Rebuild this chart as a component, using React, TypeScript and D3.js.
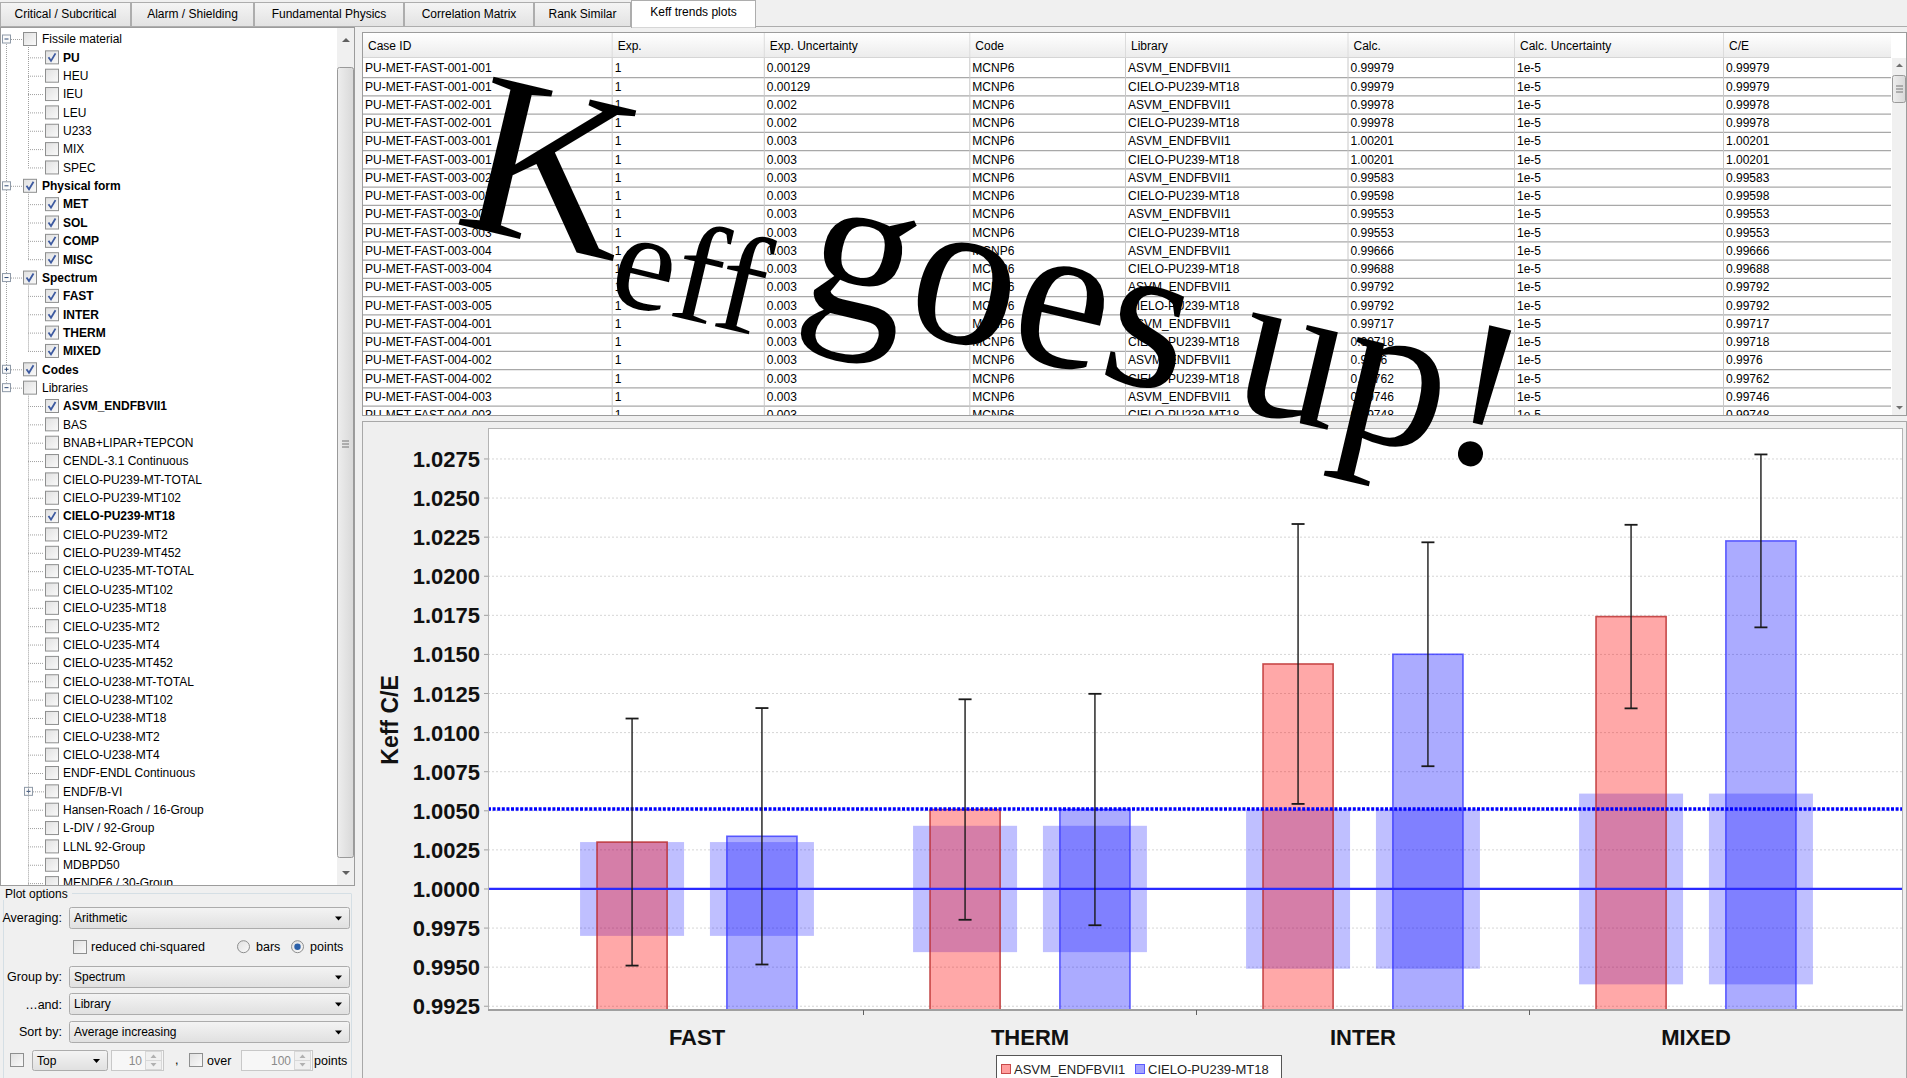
import React from "react";
import * as d3 from "d3";

// ---------- chart data ----------
const categories = ["FAST", "THERM", "INTER", "MIXED"];
const seriesNames = ["ASVM_ENDFBVII1", "CIELO-PU239-MT18"];
const asvmMean = [1.0030, 1.00508, 1.01439, 1.01742];
const asvmErr = [0.0079, 0.00705, 0.00895, 0.00587];
const cieloMean = [1.00337, 1.00508, 1.01501, 1.02226];
const cieloErr = [0.0082, 0.0074, 0.00716, 0.00553];
const expUncertainty = [0.0030, 0.00404, 0.0051, 0.0061];
const referenceLevel = 1.0;
const averageLevel = 1.00512;
const yTicks = [0.9925, 0.995, 0.9975, 1.0, 1.0025, 1.005, 1.0075, 1.01, 1.0125, 1.015, 1.0175, 1.02, 1.0225, 1.025, 1.0275];

// ---------- table data ----------
const tableHeaders = ["Case ID", "Exp.", "Exp. Uncertainty", "Code", "Library", "Calc.", "Calc. Uncertainty", "C/E"];
const caseIds = [
  "PU-MET-FAST-001-001", "PU-MET-FAST-001-001", "PU-MET-FAST-002-001", "PU-MET-FAST-002-001",
  "PU-MET-FAST-003-001", "PU-MET-FAST-003-001", "PU-MET-FAST-003-002", "PU-MET-FAST-003-002",
  "PU-MET-FAST-003-003", "PU-MET-FAST-003-003", "PU-MET-FAST-003-004", "PU-MET-FAST-003-004",
  "PU-MET-FAST-003-005", "PU-MET-FAST-003-005", "PU-MET-FAST-004-001", "PU-MET-FAST-004-001",
  "PU-MET-FAST-004-002", "PU-MET-FAST-004-002", "PU-MET-FAST-004-003", "PU-MET-FAST-004-003",
];
const expUncCol = ["0.00129", "0.00129", "0.002", "0.002", "0.003", "0.003", "0.003", "0.003", "0.003", "0.003",
  "0.003", "0.003", "0.003", "0.003", "0.003", "0.003", "0.003", "0.003", "0.003", "0.003"];
const calcCol = ["0.99979", "0.99979", "0.99978", "0.99978", "1.00201", "1.00201", "0.99583", "0.99598", "0.99553", "0.99553",
  "0.99666", "0.99688", "0.99792", "0.99792", "0.99717", "0.99718", "0.9976", "0.99762", "0.99746", "0.99748"];

// ---------- UI data ----------
const tabLabels = ["Critical / Subcritical", "Alarm / Shielding", "Fundamental Physics", "Correlation Matrix", "Rank Similar", "Keff trends plots"];
const tabEdges = [0, 131, 254, 404, 534, 631, 756];
// label, level, checked, expander
const treeRows: [string, number, boolean, string][] = [
  ["Fissile material", 1, false, "-"], ["PU", 2, true, ""], ["HEU", 2, false, ""], ["IEU", 2, false, ""],
  ["LEU", 2, false, ""], ["U233", 2, false, ""], ["MIX", 2, false, ""], ["SPEC", 2, false, ""],
  ["Physical form", 1, true, "-"], ["MET", 2, true, ""], ["SOL", 2, true, ""], ["COMP", 2, true, ""], ["MISC", 2, true, ""],
  ["Spectrum", 1, true, "-"], ["FAST", 2, true, ""], ["INTER", 2, true, ""], ["THERM", 2, true, ""], ["MIXED", 2, true, ""],
  ["Codes", 1, true, "+"], ["Libraries", 1, false, "-"],
  ["ASVM_ENDFBVII1", 2, true, ""], ["BAS", 2, false, ""], ["BNAB+LIPAR+TEPCON", 2, false, ""], ["CENDL-3.1 Continuous", 2, false, ""],
  ["CIELO-PU239-MT-TOTAL", 2, false, ""], ["CIELO-PU239-MT102", 2, false, ""], ["CIELO-PU239-MT18", 2, true, ""],
  ["CIELO-PU239-MT2", 2, false, ""], ["CIELO-PU239-MT452", 2, false, ""], ["CIELO-U235-MT-TOTAL", 2, false, ""],
  ["CIELO-U235-MT102", 2, false, ""], ["CIELO-U235-MT18", 2, false, ""], ["CIELO-U235-MT2", 2, false, ""],
  ["CIELO-U235-MT4", 2, false, ""], ["CIELO-U235-MT452", 2, false, ""], ["CIELO-U238-MT-TOTAL", 2, false, ""],
  ["CIELO-U238-MT102", 2, false, ""], ["CIELO-U238-MT18", 2, false, ""], ["CIELO-U238-MT2", 2, false, ""],
  ["CIELO-U238-MT4", 2, false, ""], ["ENDF-ENDL Continuous", 2, false, ""], ["ENDF/B-VI", 2, false, "+"],
  ["Hansen-Roach / 16-Group", 2, false, ""], ["L-DIV / 92-Group", 2, false, ""], ["LLNL 92-Group", 2, false, ""],
  ["MDBPD50", 2, false, ""], ["MENDF6 / 30-Group", 2, false, ""],
];

const UI = "'Liberation Sans', Arial, sans-serif";
const SERIF = "'Liberation Serif', 'Times New Roman', serif";

function CheckBox({ x, y, checked, size = 13 }: { x: number; y: number; checked: boolean; size?: number }) {
  return (
    <g>
      <rect x={x + 0.5} y={y + 0.5} width={size} height={size} fill="url(#cbGrad)" stroke="#8e8f8f" />
      {checked && (
        <path d={`M${x + 3.5} ${y + 7} L${x + 6} ${y + 10.5} L${x + 10.5} ${y + 3}`} fill="none" stroke="#3d5aa0" strokeWidth={1.8} />
      )}
    </g>
  );
}

function Combo({ x, y, w, h, label }: { x: number; y: number; w: number; h: number; label: string }) {
  return (
    <g>
      <rect x={x + 0.5} y={y + 0.5} width={w} height={h} rx={2} fill="url(#comboGrad)" stroke="#acacac" />
      <text x={x + 5} y={y + h / 2 + 4.5} fontSize={12} fontFamily={UI} fill="#000">{label}</text>
      <path d={`M${x + w - 14} ${y + h / 2 - 1} l7 0 l-3.5 4 z`} fill="#000" />
    </g>
  );
}

function Spinner({ x, y, w, h, value }: { x: number; y: number; w: number; h: number; value: string }) {
  return (
    <g>
      <rect x={x + 0.5} y={y + 0.5} width={w} height={h} fill="#f7f7f7" stroke="#c8c8c8" />
      <text x={x + w - 21} y={y + h / 2 + 4.5} fontSize={12} fontFamily={UI} fill="#8a8a8a" textAnchor="end">{value}</text>
      <rect x={x + w - 17.5} y={y + 1.5} width={16} height={h / 2 - 1} fill="#f0f0f0" stroke="#d8d8d8" />
      <rect x={x + w - 17.5} y={y + h / 2 + 0.5} width={16} height={h / 2 - 1} fill="#f0f0f0" stroke="#d8d8d8" />
      <path d={`M${x + w - 12.5} ${y + h / 2 - 2} l3 -3.5 l3 3.5 z`} fill="#b0b0b0" />
      <path d={`M${x + w - 12.5} ${y + h / 2 + 3} l3 3.5 l3 -3.5 z`} fill="#b0b0b0" />
    </g>
  );
}

export default function App() {
  // ----- chart geometry -----
  const plotL = 488, plotR = 1903, plotT = 428, plotB = 1010;
  const y = d3.scaleLinear().domain([0.99226, 1.02948]).range([plotB, plotT]);
  const x = d3.scaleBand<string>().domain(categories).range([530.5, 1862.5]);
  const xs = d3.scaleBand<string>().domain(seriesNames).range([-100, 100]).paddingInner(0.46);
  const series = [
    { name: seriesNames[0], mean: asvmMean, err: asvmErr, fill: "rgba(255,0,0,0.34)", stroke: "rgba(185,40,40,0.8)", lfill: "rgba(255,0,0,0.38)" },
    { name: seriesNames[1], mean: cieloMean, err: cieloErr, fill: "rgba(0,0,255,0.33)", stroke: "rgba(50,50,255,0.75)", lfill: "rgba(0,0,255,0.36)" },
  ];
  const boxW = 104;

  const treeRowH = 18.35;
  const treeY0 = 39;
  const tableRowH = 18.25;
  const tableRowY0 = 68;
  const colX = [362, 611.7, 763.8, 969.3, 1125, 1347.5, 1514, 1723, 1891];

  const libIndex = treeRows.findIndex((r) => r[0] === "Libraries");

  return (
    <svg width={1907} height={1078} style={{ position: "absolute", left: 0, top: 0, display: "block" }} xmlns="http://www.w3.org/2000/svg">
      <defs>
        <linearGradient id="tabGrad" x1="0" y1="0" x2="0" y2="1">
          <stop offset="0" stopColor="#f5f5f5" />
          <stop offset="1" stopColor="#e2e2e2" />
        </linearGradient>
        <linearGradient id="comboGrad" x1="0" y1="0" x2="0" y2="1">
          <stop offset="0" stopColor="#f4f4f4" />
          <stop offset="1" stopColor="#e0e0e0" />
        </linearGradient>
        <linearGradient id="cbGrad" x1="0" y1="0" x2="1" y2="1">
          <stop offset="0" stopColor="#e0e0e0" />
          <stop offset="1" stopColor="#fafafa" />
        </linearGradient>
        <linearGradient id="hdrGrad" x1="0" y1="0" x2="0" y2="1">
          <stop offset="0" stopColor="#ffffff" />
          <stop offset="1" stopColor="#ececec" />
        </linearGradient>
        <linearGradient id="thumbGrad" x1="0" y1="0" x2="1" y2="0">
          <stop offset="0" stopColor="#eeeeee" />
          <stop offset="1" stopColor="#d8d8d8" />
        </linearGradient>
        <clipPath id="treeClip"><rect x={1} y={28} width={335} height={857} /></clipPath>
        <clipPath id="tableClip"><rect x={363} y={58} width={1528} height={357} /></clipPath>
      </defs>

      {/* window background */}
      <rect x={0} y={0} width={1907} height={1078} fill="#f0f0f0" />

      {/* ---------- tabs ---------- */}
      <line x1={0} y1={26.5} x2={1907} y2={26.5} stroke="#adadad" />
      {tabLabels.map((t, i) => {
        const sel = i === tabLabels.length - 1;
        const x0 = tabEdges[i], x1 = tabEdges[i + 1];
        return (
          <g key={t}>
            <rect x={x0 + 0.5} y={sel ? 0.5 : 2.5} width={x1 - x0 - 1} height={sel ? 27 : 24} fill={sel ? "#ffffff" : "url(#tabGrad)"} stroke="#adadad" />
            {sel && <line x1={x0 + 1} y1={26.5} x2={x1 - 1} y2={26.5} stroke="#ffffff" strokeWidth={2} />}
            <text x={(x0 + x1) / 2} y={sel ? 16 : 18} fontSize={12} fontFamily={UI} textAnchor="middle" fill="#000">{t}</text>
          </g>
        );
      })}

      {/* ---------- tree panel ---------- */}
      <rect x={0.5} y={27.5} width={354} height={858} fill="#ffffff" stroke="#9c9c9c" />
      <g clipPath="url(#treeClip)">
        <line x1={6.5} y1={treeY0 + 5} x2={6.5} y2={treeY0 + libIndex * treeRowH - 5} stroke="#a0a0a0" strokeDasharray="1,1" />
        {treeRows.map((r, i) => {
          const [label, level, checked, exp] = r;
          const cy = treeY0 + i * treeRowH;
          const bold = checked;
          if (level === 1) {
            return (
              <g key={i}>
                <line x1={11} y1={cy + 0.5} x2={22} y2={cy + 0.5} stroke="#a0a0a0" strokeDasharray="1,1" />
                <rect x={2.5} y={cy - 4} width={8} height={8} fill="#fbfbfb" stroke="#8f9aa8" />
                <line x1={4.5} y1={cy} x2={8.5} y2={cy} stroke="#2f4a76" />
                {exp === "+" && <line x1={6.5} y1={cy - 2} x2={6.5} y2={cy + 2} stroke="#2f4a76" />}
                <CheckBox x={23} y={cy - 7} checked={checked} />
                <text x={42} y={cy + 4.3} fontSize={12} fontWeight={bold ? "bold" : "normal"} fontFamily={UI} fill="#000">{label}</text>
              </g>
            );
          }
          return (
            <g key={i}>
              <line x1={exp ? 33 : 28} y1={cy + 0.5} x2={44} y2={cy + 0.5} stroke="#a0a0a0" strokeDasharray="1,1" />
              {exp === "+" && (
                <g>
                  <rect x={24.5} y={cy - 4} width={8} height={8} fill="#fbfbfb" stroke="#8f9aa8" />
                  <line x1={26.5} y1={cy} x2={30.5} y2={cy} stroke="#2f4a76" />
                  <line x1={28.5} y1={cy - 2} x2={28.5} y2={cy + 2} stroke="#2f4a76" />
                </g>
              )}
              <CheckBox x={45} y={cy - 7} checked={checked} />
              <text x={63} y={cy + 4.3} fontSize={12} fontWeight={bold ? "bold" : "normal"} fontFamily={UI} fill="#000">{label}</text>
            </g>
          );
        })}
        {[[0, 7], [8, 12], [13, 17], [19, 46]].map(([p, last], k) => (
          <line key={k} x1={28.5} y1={treeY0 + p * treeRowH + 8} x2={28.5} y2={k === 3 ? 890 : treeY0 + last * treeRowH} stroke="#a0a0a0" strokeDasharray="1,1" />
        ))}
      </g>
      {/* tree scrollbar */}
      <rect x={337} y={28} width={17} height={857} fill="#f0f0f0" />
      <path d="M342 42 l4 -4 l4 4 z" fill="#606060" />
      <rect x={337.5} y={67.5} width={16} height={790} rx={2} fill="url(#thumbGrad)" stroke="#9a9a9a" />
      <line x1={342} y1={441} x2={349} y2={441} stroke="#777" />
      <line x1={342} y1={444} x2={349} y2={444} stroke="#777" />
      <line x1={342} y1={447} x2={349} y2={447} stroke="#777" />
      <path d="M342 871 l4 4 l4 -4 z" fill="#606060" />

      {/* ---------- plot options ---------- */}
      <line x1={72} y1={893.5} x2={351} y2={893.5} stroke="#d5dfe5" />
      <line x1={3.5} y1={900} x2={3.5} y2={1078} stroke="#d5dfe5" />
      <line x1={351.5} y1={893.5} x2={351.5} y2={1078} stroke="#d5dfe5" />
      <text x={5} y={898} fontSize={12} fontFamily={UI} fill="#000">Plot options</text>

      <text x={62} y={922} fontSize={12.5} fontFamily={UI} textAnchor="end" fill="#000">Averaging:</text>
      <Combo x={69} y={907} w={280} h={21} label="Arithmetic" />
      <CheckBox x={73} y={940} checked={false} />
      <text x={91} y={951} fontSize={12.5} fontFamily={UI} fill="#000">reduced chi-squared</text>
      <circle cx={243.5} cy={946.7} r={6} fill="url(#cbGrad)" stroke="#8e8f8f" />
      <text x={256} y={951} fontSize={12.5} fontFamily={UI} fill="#000">bars</text>
      <circle cx={297.5} cy={946.7} r={6} fill="url(#cbGrad)" stroke="#8e8f8f" />
      <circle cx={297.5} cy={946.7} r={3.2} fill="#2a5fa8" />
      <text x={310} y={951} fontSize={12.5} fontFamily={UI} fill="#000">points</text>

      <text x={62} y={981} fontSize={12.5} fontFamily={UI} textAnchor="end" fill="#000">Group by:</text>
      <Combo x={69} y={966} w={280} h={21} label="Spectrum" />
      <text x={62} y={1008.5} fontSize={12.5} fontFamily={UI} textAnchor="end" fill="#000">…and:</text>
      <Combo x={69} y={993} w={280} h={21} label="Library" />
      <text x={62} y={1036} fontSize={12.5} fontFamily={UI} textAnchor="end" fill="#000">Sort by:</text>
      <Combo x={69} y={1021} w={280} h={21} label="Average increasing" />

      <CheckBox x={10} y={1053} checked={false} />
      <Combo x={32} y={1050} w={75} h={20} label="Top" />
      <Spinner x={111} y={1050} w={52} h={20} value="10" />
      <text x={175} y={1064} fontSize={12.5} fontFamily={UI} fill="#000">,</text>
      <CheckBox x={189} y={1053} checked={false} />
      <text x={207} y={1064.5} fontSize={12.5} fontFamily={UI} fill="#000">over</text>
      <Spinner x={241} y={1050} w={71} h={20} value="100" />
      <text x={314} y={1064.5} fontSize={12.5} fontFamily={UI} fill="#000">points</text>

      {/* ---------- table ---------- */}
      <rect x={362.5} y={32.5} width={1544} height={383} fill="#ffffff" stroke="#9c9c9c" />
      <rect x={363} y={33} width={1528} height={24} fill="url(#hdrGrad)" />
      <line x1={363} y1={57.5} x2={1891} y2={57.5} stroke="#d5d5d5" />
      {tableHeaders.map((h, i) => (
        <g key={h}>
          {i > 0 && <line x1={colX[i] + 0.5} y1={33} x2={colX[i] + 0.5} y2={57} stroke="#dcdcdc" />}
          <text x={colX[i] + 6} y={49.5} fontSize={12} fontFamily={UI} fill="#000">{h}</text>
        </g>
      ))}
      <g clipPath="url(#tableClip)">
        {caseIds.map((id, i) => {
          const cy = tableRowY0 + i * tableRowH;
          const cells = [id, "1", expUncCol[i], "MCNP6", seriesNames[i % 2], calcCol[i], "1e-5", calcCol[i]];
          return (
            <g key={i}>
              {cells.map((c, j) => (
                <text key={j} x={colX[j] + 3} y={cy + 4.3} fontSize={12} fontFamily={UI} fill="#000">{c}</text>
              ))}
              <line x1={363} y1={cy + 9.6} x2={1891} y2={cy + 9.6} stroke="#a8a8a8" strokeWidth={1.4} />
            </g>
          );
        })}
        {colX.slice(1, 8).map((cx, i) => (
          <line key={i} x1={cx + 0.5} y1={58} x2={cx + 0.5} y2={415} stroke="#c8c8c8" />
        ))}
      </g>
      {/* table scrollbar */}
      <rect x={1892} y={58} width={14} height={357} fill="#f0f0f0" />
      <path d="M1896 67 l3.5 -3.5 l3.5 3.5 z" fill="#707070" />
      <rect x={1892.5} y={75.5} width={13} height={27} rx={2} fill="url(#thumbGrad)" stroke="#9a9a9a" />
      <line x1={1896} y1={86} x2={1903} y2={86} stroke="#777" />
      <line x1={1896} y1={89} x2={1903} y2={89} stroke="#777" />
      <line x1={1896} y1={92} x2={1903} y2={92} stroke="#777" />
      <path d="M1896 406 l3.5 3.5 l3.5 -3.5 z" fill="#707070" />

      {/* ---------- chart panel ---------- */}
      <rect x={362.5} y={421.5} width={1544} height={660} fill="#efefef" stroke="#a8a8a8" />
      <rect x={plotL} y={plotT} width={plotR - plotL} height={plotB - plotT} fill="#ffffff" />
      {yTicks.map((t) => (
        <g key={t}>
          <line x1={plotL} y1={y(t)} x2={plotR} y2={y(t)} stroke="#d6d6d6" strokeDasharray="2,2" />
          <line x1={plotL - 4} y1={y(t)} x2={plotL} y2={y(t)} stroke="#a0a0a0" />
          <text x={480} y={y(t) + 8} fontSize={22} fontWeight="bold" fontFamily={UI} textAnchor="end" fill="#111">{t.toFixed(4)}</text>
        </g>
      ))}
      {categories.map((c, ci) =>
        series.map((s) => {
          const cx = (x(c) as number) + x.bandwidth() / 2 + (xs(s.name) as number) + xs.bandwidth() / 2;
          return (
            <rect key={c + s.name} x={cx - boxW / 2} y={y(referenceLevel + expUncertainty[ci])} width={boxW}
              height={y(referenceLevel - expUncertainty[ci]) - y(referenceLevel + expUncertainty[ci])} fill="rgba(0,0,255,0.25)" />
          );
        })
      )}
      {categories.map((c, ci) =>
        series.map((s) => {
          const bx = (x(c) as number) + x.bandwidth() / 2 + (xs(s.name) as number);
          return (
            <rect key={c + s.name} x={bx} y={y(s.mean[ci])} width={xs.bandwidth()} height={plotB - y(s.mean[ci])}
              fill={s.fill} stroke={s.stroke} strokeWidth={1.6} />
          );
        })
      )}
      <line x1={plotL} y1={y(referenceLevel)} x2={plotR} y2={y(referenceLevel)} stroke="#2a2aff" strokeWidth={2.2} />
      <line x1={plotL} y1={y(averageLevel)} x2={plotR} y2={y(averageLevel)} stroke="#0000ff" strokeWidth={3.5} strokeDasharray="3,1.6" />
      {categories.map((c, ci) =>
        series.map((s) => {
          const cx = (x(c) as number) + x.bandwidth() / 2 + (xs(s.name) as number) + xs.bandwidth() / 2;
          const yt = y(s.mean[ci] + s.err[ci]);
          const yb = y(s.mean[ci] - s.err[ci]);
          return (
            <g key={c + s.name} stroke="#1a1a1a" strokeWidth={1.4}>
              <line x1={cx} y1={yt} x2={cx} y2={yb} />
              <line x1={cx - 6.5} y1={yt} x2={cx + 6.5} y2={yt} strokeWidth={1.8} />
              <line x1={cx - 6.5} y1={yb} x2={cx + 6.5} y2={yb} strokeWidth={1.8} />
            </g>
          );
        })
      )}
      <rect x={plotL + 0.5} y={plotT + 0.5} width={plotR - plotL - 1} height={plotB - plotT - 1} fill="none" stroke="#b4b4b4" />
      <line x1={plotL} y1={plotB} x2={plotR} y2={plotB} stroke="#a0a0a0" strokeWidth={2} />
      {categories.slice(1).map((c) => (
        <line key={c} x1={x(c) as number} y1={plotB} x2={x(c) as number} y2={plotB + 5} stroke="#606060" />
      ))}
      {categories.map((c) => (
        <text key={c} x={(x(c) as number) + x.bandwidth() / 2} y={1045} fontSize={22} fontWeight="bold" fontFamily={UI} textAnchor="middle" fill="#111">{c}</text>
      ))}
      <text transform="translate(398,720) rotate(-90)" fontSize={23} fontWeight="bold" fontFamily={UI} textAnchor="middle" fill="#111">Keff C/E</text>

      {/* legend */}
      <rect x={996.5} y={1055.5} width={285} height={30} fill="#ffffff" stroke="#555555" />
      {series.map((s, i) => {
        const lx = [1001, 1135][i];
        return (
          <g key={s.name}>
            <rect x={lx + 0.5} y={1064.5} width={9} height={9} fill={s.lfill} stroke={s.stroke} />
            <text x={lx + 13} y={1073.5} fontSize={13} fontFamily={UI} fill="#222">{s.name}</text>
          </g>
        );
      })}

      {/* ---------- overlay caption ---------- */}
      <text transform="translate(452,223) rotate(13.3)" fontFamily={SERIF} fill="#000" style={{ whiteSpace: "pre" }}>
        <tspan fontSize={232}>K</tspan>
        <tspan fontSize={140} dy={40}>eff </tspan>
        <tspan fontSize={212} dy={-40}>goes up!</tspan>
      </text>
    </svg>
  );
}
